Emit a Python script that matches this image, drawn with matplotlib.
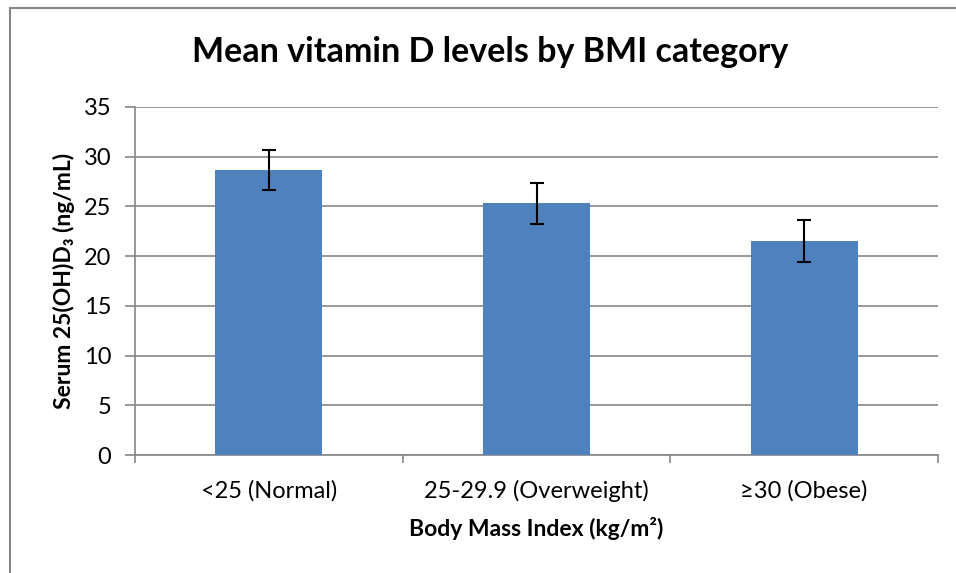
import matplotlib.pyplot as plt
from matplotlib.patches import Rectangle

# data
categories = ["<25 (Normal)", "25-29.9 (Overweight)", "≥30 (Obese)"]
mean_vitd = [28.7, 25.3, 21.5]
err_vitd = [2.0, 2.05, 2.1]
y_ticks = [0, 5, 10, 15, 20, 25, 30, 35]

plt.rcParams['font.family'] = ['Lato', 'DejaVu Sans']

fig = plt.figure(figsize=(9.56, 5.73), dpi=100)
ax = fig.add_axes([0.1412, 0.2059, 0.8400, 0.6074])

x = range(len(categories))
ax.bar(x, mean_vitd, width=0.4, color="#4F81BD", zorder=3)
ax.errorbar(x, mean_vitd, yerr=err_vitd, fmt="none", ecolor="black",
            elinewidth=1.5, capsize=5, capthick=1.5, zorder=4)

ax.set_xlim(-0.5, len(categories) - 0.5)
ax.set_ylim(0, 35)
ax.set_yticks(y_ticks)
ax.grid(axis="y", color="#868686", linewidth=1.2, zorder=0)

# category ticks sit at the boundaries, labels in the middle
ax.set_xticks([i - 0.5 for i in range(len(categories) + 1)])
ax.set_xticklabels([])
ax.set_xticks(list(x), minor=True)
ax.set_xticklabels(categories, minor=True, fontsize=17)
ax.tick_params(axis="x", which="minor", length=0, pad=18)
ax.tick_params(axis="x", which="major", length=6, color="#868686", width=1.2)
ax.tick_params(axis="y", length=7, color="#868686", width=1.2, labelsize=17, pad=10)

for s in ["top", "right"]:
    ax.spines[s].set_visible(False)
for s in ["left", "bottom"]:
    ax.spines[s].set_color("#868686")
    ax.spines[s].set_linewidth(1.2)

ax.set_xlabel("Body Mass Index (kg/m²)", fontsize=16.5, fontweight="bold", labelpad=11)
ax.set_ylabel("Serum 25(OH)D₃ (ng/mL)", fontsize=16.5, fontweight="bold", labelpad=6)
fig.text(0.513, 0.909, "Mean vitamin D levels by BMI category", ha="center", va="center",
         fontsize=24.5, fontweight="bold")

# chart border (cut off at right and bottom)
fig.patches.append(Rectangle((10 / 956, -0.05), 1.2, 1 - 8 / 573 + 0.05, transform=fig.transFigure,
                             fill=False, edgecolor="#868686", linewidth=1.5))

fig.savefig("out.png", dpi=100)
